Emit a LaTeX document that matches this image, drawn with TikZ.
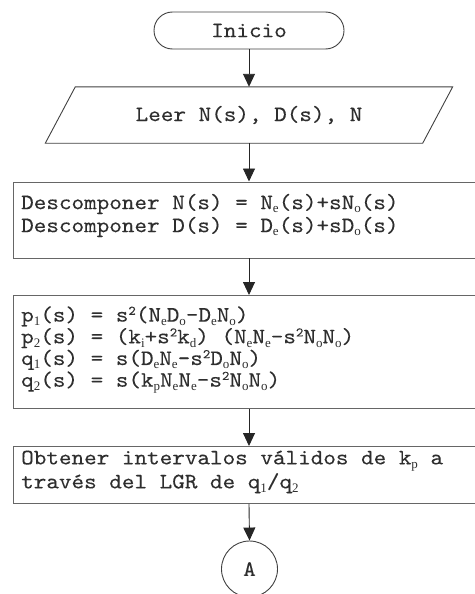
\documentclass[tikz,border=0pt]{standalone}
\usepackage{fontspec}
\newfontfamily\codefont{lmmono10-regular}[Extension=.otf, FakeStretch=1.09, FakeBold=0.2]
\newfontfamily\subfont{Liberation Serif}
\usetikzlibrary{arrows.meta,shapes.misc}

% small lowered index and small raised exponent
\newcommand{\lo}[1]{\raisebox{-0.4ex}[0pt][0pt]{\subfont\fontsize{13}{13}\selectfont #1}}
\newcommand{\hi}[1]{\raisebox{0.72ex}[0pt][0pt]{\codefont\fontsize{13}{13}\selectfont #1}}

\begin{document}
\begin{tikzpicture}[x=1pt,y=1pt,
  every node/.style={font=\codefont\fontsize{22}{22.5}\selectfont, text=black!82},
  shapeline/.style={draw=black!75, line width=0.9pt},
  flowline/.style={draw=black!85, line width=0.9pt, -{Triangle[width=12pt,length=13pt]}},
  procbox/.style={draw=black!60, line width=0.9pt, rectangle, anchor=north west,
    minimum width=490pt, inner sep=0pt},
  proctext/.style={anchor=west, align=left, inner sep=0pt},
]
\useasboundingbox (0,0) rectangle (474,-594);

% start terminal
\node[shapeline, rounded rectangle, minimum width=190pt, minimum height=37pt, inner sep=0pt]
  (start) at (249,-30.5) {Inicio};

% input (parallelogram drawn round the text node)
\node[minimum width=377pt, minimum height=56pt, inner sep=0pt] (read) at (249,-115) {Leer N(s), D(s), N};
\draw[shapeline] ([xshift=-15pt]read.south west) -- ([xshift=15pt]read.north west)
  -- ([xshift=15pt]read.north east) -- ([xshift=-15pt]read.south east) -- cycle;

% process boxes
\node[procbox, minimum height=76pt] (decomp) at (13,-181.5) {};
\node[proctext, font=\codefont\fontsize{22}{23}\selectfont] (decomptext) at ([xshift=8pt,yshift=4.5pt]decomp.west)
  {Descomponer N(s) = N\lo{e}(s)+sN\lo{o}(s)\\
   Descomponer D(s) = D\lo{e}(s)+sD\lo{o}(s)};

\node[procbox, minimum height=113pt] (poly) at (13,-295) {};
\node[proctext, font=\codefont\fontsize{22}{21.7}\selectfont] (polytext) at ([xshift=8pt,yshift=3pt]poly.west)
  {p\lo{1}(s) = s\hi{2}(N\lo{e}D\lo{o}-D\lo{e}N\lo{o})\\
   p\lo{2}(s) = (k\lo{i}+s\hi{2}k\lo{d}) (N\lo{e}N\lo{e}-s\hi{2}N\lo{o}N\lo{o})\\
   q\lo{1}(s) = s(D\lo{e}N\lo{e}-s\hi{2}D\lo{o}N\lo{o})\\
   q\lo{2}(s) = s(k\lo{p}N\lo{e}N\lo{e}-s\hi{2}N\lo{o}N\lo{o})};

\node[procbox, minimum height=57pt] (lgr) at (13,-446) {};
\node[proctext, font=\codefont\fontsize{22}{24}\selectfont] (lgrtext) at ([xshift=8pt,yshift=3pt]lgr.west)
  {Obtener intervalos válidos de k\lo{p} a\\
   través del LGR de q\lo{1}/q\lo{2}};

% off-page connector
\node[shapeline, circle, minimum size=56pt, inner sep=0pt] (conn) at (249.5,-569) {A};

% flow
\draw[flowline] (start.south) -- (read.north);
\draw[flowline] (read.south) -- (read.south |- decomp.north);
\draw[flowline] (read.south |- decomp.south) -- (read.south |- poly.north);
\draw[flowline] (read.south |- poly.south) -- (read.south |- lgr.north);
\draw[flowline] (read.south |- lgr.south) -- (conn.north);
\end{tikzpicture}
\end{document}
